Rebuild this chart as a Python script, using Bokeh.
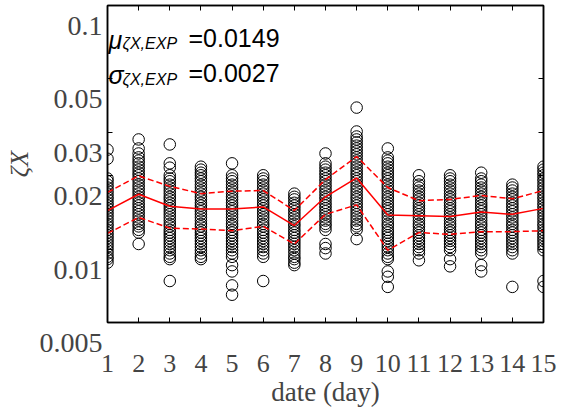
from bokeh.plotting import figure
from bokeh.models import Label, LogAxis, LinearAxis, FixedTicker, Range1d, ColumnDataSource
from bokeh.embed import file_html
from bokeh.resources import INLINE

days = list(range(1, 16))

# zeta_X samples read per day
day01 = [0.0256, 0.0235, 0.0195, 0.0190, 0.0184, 0.0179, 0.0174, 0.0169, 0.0164, 0.0160, 0.0155, 0.0151,
         0.0147, 0.0143, 0.0139, 0.0135, 0.0131, 0.0127, 0.0124, 0.0120, 0.0117, 0.0114, 0.0111, 0.0108,
         0.0105, 0.0102, 0.0099, 0.0096, 0.0093, 0.0091, 0.0088]
day02 = [0.0282, 0.0259, 0.0247, 0.0238, 0.0231, 0.0225, 0.0218, 0.0212, 0.0206, 0.0201, 0.0195, 0.0190,
         0.0184, 0.0179, 0.0174, 0.0169, 0.0164, 0.0160, 0.0155, 0.0151, 0.0147, 0.0143, 0.0139, 0.0135,
         0.0131, 0.0127, 0.0124, 0.0120, 0.0117, 0.0105]
day03 = [0.0269, 0.0225, 0.0216, 0.0201, 0.0195, 0.0190, 0.0184, 0.0179, 0.0174, 0.0169, 0.0164, 0.0160,
         0.0155, 0.0151, 0.0147, 0.0143, 0.0139, 0.0135, 0.0131, 0.0127, 0.0124, 0.0120, 0.0117, 0.0114,
         0.0111, 0.0108, 0.0105, 0.0102, 0.0099, 0.0096, 0.0093, 0.0091, 0.0074]
day04 = [0.0218, 0.0212, 0.0206, 0.0201, 0.0195, 0.0190, 0.0184, 0.0179, 0.0174, 0.0169, 0.0164, 0.0160,
         0.0155, 0.0151, 0.0147, 0.0143, 0.0139, 0.0135, 0.0131, 0.0127, 0.0124, 0.0120, 0.0117, 0.0114,
         0.0111, 0.0108, 0.0105, 0.0102, 0.0099, 0.0096, 0.0093, 0.0091]
day05 = [0.0225, 0.0201, 0.0195, 0.0190, 0.0184, 0.0179, 0.0174, 0.0169, 0.0164, 0.0160, 0.0155, 0.0151,
         0.0147, 0.0143, 0.0139, 0.0135, 0.0131, 0.0127, 0.0124, 0.0120, 0.0117, 0.0114, 0.0111, 0.0108,
         0.0105, 0.0102, 0.0099, 0.0096, 0.0093, 0.0086, 0.0081, 0.0071, 0.0065]
day06 = [0.0201, 0.0195, 0.0190, 0.0184, 0.0179, 0.0174, 0.0169, 0.0164, 0.0160, 0.0155, 0.0151, 0.0147,
         0.0143, 0.0139, 0.0135, 0.0131, 0.0127, 0.0124, 0.0120, 0.0117, 0.0114, 0.0111, 0.0108, 0.0105,
         0.0102, 0.0099, 0.0096, 0.0093, 0.0074]
day07 = [0.0169, 0.0164, 0.0160, 0.0155, 0.0151, 0.0147, 0.0143, 0.0139, 0.0135, 0.0131, 0.0127, 0.0124,
         0.0120, 0.0117, 0.0114, 0.0111, 0.0108, 0.0105, 0.0102, 0.0099, 0.0096, 0.0093, 0.0091, 0.0088,
         0.0086]
day08 = [0.0247, 0.0225, 0.0218, 0.0212, 0.0206, 0.0201, 0.0195, 0.0190, 0.0184, 0.0179, 0.0174, 0.0169,
         0.0164, 0.0160, 0.0155, 0.0151, 0.0147, 0.0143, 0.0139, 0.0135, 0.0131, 0.0127, 0.0124, 0.0120,
         0.0105, 0.0101, 0.0096]
day09 = [0.0381, 0.0304, 0.0290, 0.0282, 0.0274, 0.0266, 0.0259, 0.0252, 0.0245, 0.0238, 0.0231, 0.0225,
         0.0218, 0.0212, 0.0206, 0.0201, 0.0195, 0.0190, 0.0184, 0.0179, 0.0174, 0.0169, 0.0164, 0.0160,
         0.0155, 0.0151, 0.0147, 0.0143, 0.0139, 0.0135, 0.0131, 0.0127, 0.0124, 0.0120, 0.0110]
day10 = [0.0259, 0.0238, 0.0231, 0.0225, 0.0218, 0.0212, 0.0206, 0.0201, 0.0195, 0.0190, 0.0184, 0.0179,
         0.0174, 0.0169, 0.0164, 0.0160, 0.0155, 0.0151, 0.0147, 0.0143, 0.0139, 0.0135, 0.0131, 0.0127,
         0.0124, 0.0120, 0.0117, 0.0114, 0.0111, 0.0108, 0.0105, 0.0102, 0.0099, 0.0096, 0.0093, 0.0091,
         0.0081, 0.0077, 0.0070]
day11 = [0.0201, 0.0190, 0.0184, 0.0179, 0.0174, 0.0169, 0.0164, 0.0160, 0.0155, 0.0151, 0.0147, 0.0143,
         0.0139, 0.0135, 0.0131, 0.0127, 0.0124, 0.0120, 0.0117, 0.0114, 0.0111, 0.0108, 0.0105, 0.0102,
         0.0099, 0.0096, 0.0090]
day12 = [0.0201, 0.0195, 0.0190, 0.0184, 0.0179, 0.0174, 0.0169, 0.0164, 0.0160, 0.0155, 0.0151, 0.0147,
         0.0143, 0.0139, 0.0135, 0.0131, 0.0127, 0.0124, 0.0120, 0.0117, 0.0114, 0.0111, 0.0108, 0.0105,
         0.0102, 0.0099, 0.0091, 0.0085]
day13 = [0.0206, 0.0195, 0.0190, 0.0184, 0.0179, 0.0174, 0.0169, 0.0164, 0.0160, 0.0155, 0.0151, 0.0147,
         0.0143, 0.0139, 0.0135, 0.0131, 0.0127, 0.0124, 0.0120, 0.0117, 0.0114, 0.0111, 0.0108, 0.0105,
         0.0102, 0.0099, 0.0096, 0.0086, 0.0081]
day14 = [0.0184, 0.0179, 0.0174, 0.0169, 0.0164, 0.0160, 0.0155, 0.0151, 0.0147, 0.0143, 0.0139, 0.0135,
         0.0131, 0.0127, 0.0124, 0.0120, 0.0117, 0.0114, 0.0111, 0.0108, 0.0105, 0.0102, 0.0099, 0.0096,
         0.0070]
day15 = [0.0218, 0.0212, 0.0206, 0.0201, 0.0195, 0.0190, 0.0184, 0.0179, 0.0174, 0.0169, 0.0164, 0.0160,
         0.0155, 0.0151, 0.0147, 0.0143, 0.0139, 0.0135, 0.0131, 0.0127, 0.0124, 0.0120, 0.0117, 0.0114,
         0.0111, 0.0108, 0.0105, 0.0102, 0.0099, 0.0074, 0.0070]

samples = [day01, day02, day03, day04, day05, day06, day07, day08,
           day09, day10, day11, day12, day13, day14, day15]

mean_zeta = [0.0144, 0.0168, 0.0150, 0.0146, 0.0146, 0.0149, 0.0125, 0.0164,
             0.0196, 0.0138, 0.0137, 0.0136, 0.0142, 0.0139, 0.0147]
upper_zeta = [0.0171, 0.0200, 0.0181, 0.0169, 0.0173, 0.0174, 0.0144, 0.0193,
              0.0240, 0.0179, 0.0158, 0.0160, 0.0166, 0.0161, 0.0174]
lower_zeta = [0.0116, 0.0135, 0.0122, 0.0121, 0.0119, 0.0124, 0.0105, 0.0139,
              0.0152, 0.0099, 0.0117, 0.0115, 0.0118, 0.0118, 0.0119]

y_tick_values = [0.005, 0.01, 0.02, 0.03, 0.05, 0.1]
y_tick_labels = ["0.005", "0.01", "0.02", "0.03", "0.05", "0.1"]

mu_text = "=0.0149"
sigma_text = "=0.0027"

xs = [d for d, vals in zip(days, samples) for _ in vals]
ys = [v for vals in samples for v in vals]
pts = ColumnDataSource(data=dict(x=xs, y=ys))
stats = ColumnDataSource(data=dict(x=days, m=mean_zeta, u=upper_zeta, l=lower_zeta))

p = figure(width=565, height=409, y_axis_type="log",
           x_range=Range1d(1, 15), y_range=Range1d(0.005, 0.1),
           output_backend="svg", toolbar_location=None,
           min_border_left=107, min_border_right=22, min_border_top=5, min_border_bottom=87)
p.background_fill_color = "white"
p.border_fill_color = "white"
p.outline_line_color = "black"
p.outline_line_width = 1.5
p.grid.visible = False

p.scatter("x", "y", source=pts, marker="circle", size=11.5,
          fill_color=None, line_color="black", line_width=1)
p.line("x", "u", source=stats, line_color="red", line_width=1.5, line_dash="6 3")
p.line("x", "l", source=stats, line_color="red", line_width=1.5, line_dash="6 3")
p.line("x", "m", source=stats, line_color="red", line_width=1.5)

serif = "Liberation Serif"
sans = "Liberation Sans"

xa = p.xaxis[0]
xa.ticker = FixedTicker(ticks=days)
xa.major_tick_in = 5
xa.major_tick_out = 0
xa.minor_tick_line_color = None
xa.axis_line_width = 1.5
xa.major_label_text_font = serif
xa.major_label_text_font_size = "26px"
xa.major_label_standoff = 32
xa.axis_label = "date (day)"
xa.axis_label_text_font = serif
xa.axis_label_text_font_size = "27px"
xa.axis_label_text_font_style = "normal"
xa.axis_label_standoff = 2

# inner left axis: tick marks only
ya = p.yaxis[0]
ya.ticker = FixedTicker(ticks=y_tick_values)
ya.major_tick_in = 5
ya.major_tick_out = 0
ya.minor_tick_line_color = None
ya.axis_line_width = 1.5
ya.major_label_overrides = {v: "" for v in y_tick_values}
ya.major_label_text_font_size = "1px"
ya.major_label_standoff = 0
ya.axis_label = None

# outer left axis: the labels, which hang ~20 px below their ticks in the reference
label_drop = 1.208  # ratio of a 20 px downward shift on this log scale
lab_ticks = [y_tick_values[0]] + [v / label_drop for v in y_tick_values[1:]]
lab_text = ["\n" + y_tick_labels[0]] + y_tick_labels[1:]
ylab = LinearAxis(ticker=FixedTicker(ticks=lab_ticks),
                  major_label_overrides={k: t for k, t in zip(lab_ticks, lab_text)},
                  major_tick_line_color=None, minor_tick_line_color=None, axis_line_color=None,
                  major_tick_in=0, major_tick_out=0,
                  major_label_text_font=serif, major_label_text_font_size="28px",
                  major_label_text_line_height=1.3, major_label_standoff=5,
                  axis_label="ζX", axis_label_text_font=serif, axis_label_text_font_size="26px",
                  axis_label_text_font_style="italic", axis_label_standoff=3)
p.add_layout(ylab, "left")

top = LinearAxis(ticker=FixedTicker(ticks=days), major_label_overrides={d: "" for d in days},
                 major_label_text_font_size="1px",
                 major_tick_in=5, major_tick_out=0, minor_tick_line_color=None,
                 major_label_standoff=0, axis_line_width=1.5)
p.add_layout(top, "above")
right = LogAxis(ticker=FixedTicker(ticks=y_tick_values),
                major_label_overrides={v: "" for v in y_tick_values},
                major_label_text_font_size="1px",
                major_tick_in=5, major_tick_out=0, minor_tick_line_color=None,
                major_label_standoff=0, axis_line_width=1.5)
p.add_layout(right, "right")

mu_y = 0.0739
sg_y = 0.0526
for sym, y, val in [("μ", mu_y, mu_text), ("σ", sg_y, sigma_text)]:
    p.add_layout(Label(x=1, y=y, x_offset=1, y_offset=-2, text=sym, text_align="left",
                       text_baseline="middle", text_font=sans, text_font_size="25px",
                       text_font_style="italic", text_color="black"))
    p.add_layout(Label(x=1, y=y, x_offset=15, y_offset=-6, text="ζX,EXP", text_align="left",
                       text_baseline="middle", text_font=sans, text_font_size="16px",
                       text_font_style="italic", text_color="black"))
    p.add_layout(Label(x=1, y=y, x_offset=81, y_offset=0, text=val, text_align="left",
                       text_baseline="middle", text_font=sans, text_font_size="25px",
                       text_color="black"))

open("out.html", "w").write(file_html(p, INLINE))
